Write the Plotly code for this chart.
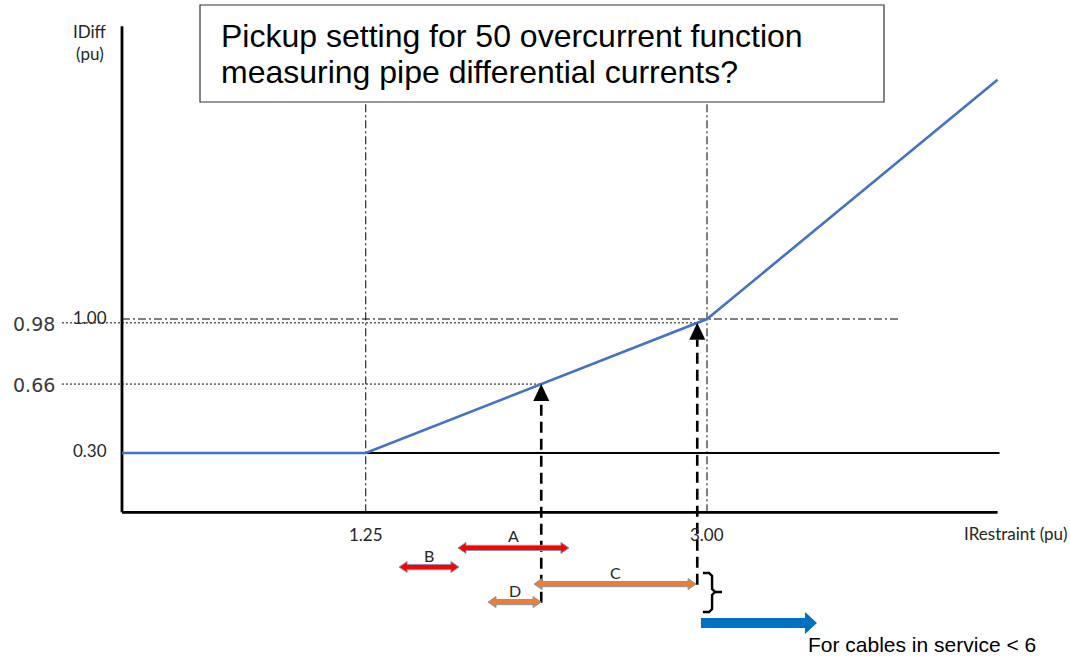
import plotly.graph_objects as go

# ---------------- data (chart units: IRestraint pu on x, IDiff pu on y) ----------------
curve_x = [0.0, 1.25, 3.00, 4.49]
curve_y = [0.30, 0.30, 1.00, 2.25]

pickup_level = 0.30
pickup_x_end = 4.50

x_tick_vals = [1.25, 3.00]
x_tick_text = ["1.25", "3.00"]
y_tick_vals = [1.00, 0.30]
y_tick_text = ["1.00", "0.30"]
left_tick_vals = [0.98, 0.66]
left_tick_text = ["0.98", "0.66"]
ref_line_level = 1.00
ref_line_x_end = 3.99

up_arrow_x = [2.15, 2.95]
up_arrow_y0 = [-0.483, -0.389]
up_arrow_y1 = [0.66, 0.98]

range_names = ["A", "B", "C", "D"]
range_x0 = [1.723, 1.421, 2.113, 1.877]
range_x1 = [2.292, 1.728, 2.944, 2.149]
range_y = [-0.196, -0.296, -0.385, -0.479]
range_colors = ["#FF0000", "#FF0000", "#ED7D31", "#ED7D31"]

blue_arrow_x = [2.969, 3.564]
blue_arrow_y = -0.588
caption_x, caption_y = 3.508, -0.703

brace_x = [2.979, 3.026, 3.077]      # left tip, spine, point
brace_y = [-0.327, -0.426, -0.531]   # top, middle, bottom

x_axis_end = 4.49
y_axis_top = 2.53
x_axis_level = -0.01

title_lines = ["Pickup setting for 50 overcurrent function",
               "measuring pipe differential currents?"]

# ---------------- geometry ----------------
W, H = 1070, 658
X_RANGE = [-0.6256, 4.8615]
Y_RANGE = [-0.7712, 2.6667]
SX = W / (X_RANGE[1] - X_RANGE[0])
SY = H / (Y_RANGE[1] - Y_RANGE[0])

fig = go.Figure()


def add_line(xs, ys, color="black", width=1, dash="solid"):
    fig.add_trace(go.Scatter(x=xs, y=ys, mode="lines",
                             line=dict(color=color, width=width, dash=dash),
                             hoverinfo="skip", showlegend=False))


def add_poly(xs, ys, fill, outline=None, owidth=1):
    fig.add_trace(go.Scatter(x=xs + [xs[0]], y=ys + [ys[0]], mode="lines", fill="toself",
                             fillcolor=fill,
                             line=dict(color=outline or fill, width=owidth if outline else 0),
                             hoverinfo="skip", showlegend=False))


def double_arrow(x0, x1, y, t, hw, hl):
    dt, dhw, dhl = t / SY, hw / SY, hl / SX
    xs = [x0, x0 + dhl, x0 + dhl, x1 - dhl, x1 - dhl, x1, x1 - dhl, x1 - dhl, x0 + dhl, x0 + dhl]
    ys = [y, y + dhw, y + dt, y + dt, y + dhw, y, y - dhw, y - dt, y - dt, y - dhw]
    return xs, ys


def single_arrow(x0, x1, y, t, hw, hl):
    dt, dhw, dhl = t / SY, hw / SY, hl / SX
    xs = [x0, x1 - dhl, x1 - dhl, x1, x1 - dhl, x1 - dhl, x0]
    ys = [y + dt, y + dt, y + dhw, y, y - dhw, y - dt, y - dt]
    return xs, ys


DASHDOT = "8px,3px,2px,3px"
DOT = "2px,2px"

# reference verticals (dash-dot)
for xv in x_tick_vals:
    add_line([xv, xv], [x_axis_level, y_axis_top], "black", 1, DASHDOT)
# horizontal dash-dot at 1.00
add_line([0, ref_line_x_end], [ref_line_level, ref_line_level], "black", 1, DASHDOT)
# dotted horizontals from left labels
left_end = [up_arrow_x[1], up_arrow_x[0]]
for yv, xe in zip(left_tick_vals, left_end):
    add_line([-0.308, xe], [yv, yv], "black", 1, DOT)

# pickup horizontal (black)
add_line([0, pickup_x_end], [pickup_level, pickup_level], "black", 2)
# axes
add_line([0, 0], [x_axis_level, y_axis_top], "black", 2.8)
add_line([0, x_axis_end], [x_axis_level, x_axis_level], "black", 2.8)

# characteristic curve
add_line(curve_x, curve_y, "#4472C4", 2.6)

# dashed up-arrows
for xa, y0, y1 in zip(up_arrow_x, up_arrow_y0, up_arrow_y1):
    head = 17 / SY
    add_line([xa, xa], [y0, y1 - head], "black", 2.6, "11px,6px")
    add_poly([xa - 8 / SX, xa + 8 / SX, xa], [y1 - head, y1 - head, y1], "black")

# range arrows
for name, x0, x1, y, c in zip(range_names, range_x0, range_x1, range_y, range_colors):
    xs, ys = double_arrow(x0, x1, y, 2.6, 5.5, 8)
    add_poly(xs, ys, c, "#8497B0", 1)
    fig.add_annotation(x=(x0 + x1) / 2, y=y, text=name, showarrow=False, yshift=12,
                       font=dict(family="Lato, Calibri, sans-serif", size=16, color="#262626"))

# brace
bx0, bsp, bpt = brace_x
bt, bm, bb = brace_y
r = 3 / SY
rx = 3 / SX
add_line([bx0, bsp - rx, bsp, bsp, bsp + rx, bpt, bsp + rx, bsp, bsp, bsp - rx, bx0],
         [bt, bt, bt - r, bm + r, bm, bm, bm, bm - r, bb + r, bb, bb], "black", 2.4)

# blue arrow
xs, ys = single_arrow(blue_arrow_x[0], blue_arrow_x[1], blue_arrow_y, 5, 11, 12)
add_poly(xs, ys, "#0070C0")

LAB = dict(family="Lato, Calibri, sans-serif", size=17, color="#262626")

# tick labels
for xv, tx in zip(x_tick_vals, x_tick_text):
    fig.add_annotation(x=xv, y=-0.125, text=tx, showarrow=False, font=LAB)
for yv, tx in zip(y_tick_vals, y_tick_text):
    fig.add_annotation(x=-0.164, y=yv, text=tx, showarrow=False, font=LAB, yshift=2)
for yv, tx in zip(left_tick_vals, left_tick_text):
    fig.add_annotation(x=-0.451, y=yv, text=tx, showarrow=False,
                       font=dict(family="DejaVu Sans", size=19, color="#3a3a3a"), yshift=-1)

fig.add_annotation(x=4.585, y=-0.12, text="IRestraint (pu)", showarrow=False, font=LAB)
fig.add_annotation(x=-0.164, y=2.50, text="IDiff", showarrow=False, font=LAB)
fig.add_annotation(x=-0.164, y=2.385, text="(pu)", showarrow=False, font=LAB)

fig.add_annotation(x=caption_x, y=caption_y, text="For cables in service < 6", showarrow=False,
                   xanchor="left", font=dict(family="Liberation Sans, Arial", size=21, color="black"))

# title box
fig.add_shape(type="rect", xref="paper", yref="paper",
              x0=200 / W, x1=884 / W, y0=1 - 102 / H, y1=1 - 5 / H,
              line=dict(color="#333333", width=1.2), fillcolor="white", layer="above")
for i, (line_text, py) in enumerate(zip(title_lines, [36, 72])):
    fig.add_annotation(xref="paper", yref="paper", x=219 / W, y=1 - py / H, text=line_text,
                       showarrow=False, xanchor="left", yanchor="middle",
                       font=dict(family="Liberation Sans, Arial", size=32, color="black"))

fig.update_layout(
    width=W, height=H, autosize=False,
    margin=dict(l=0, r=0, t=0, b=0, pad=0),
    paper_bgcolor="white", plot_bgcolor="white",
    xaxis=dict(range=X_RANGE, visible=False, fixedrange=True),
    yaxis=dict(range=Y_RANGE, visible=False, fixedrange=True),
    showlegend=False,
)

fig.write_html("out.html", config={"displayModeBar": False},
               post_script="document.body.style.margin='0';")
